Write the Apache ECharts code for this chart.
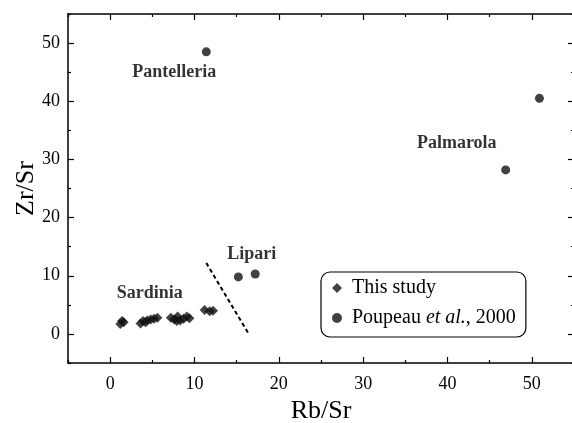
<!DOCTYPE html>
<html><head><meta charset="utf-8">
<script src="https://cdn.jsdelivr.net/npm/echarts@6/dist/echarts.min.js"></script>
<style>html,body{margin:0;padding:0;background:#fff}#c{width:572px;height:423px}</style>
</head><body><div id="c"></div>
<script>
// This study (Sardinia) Rb/Sr, Zr/Sr
const thisStudyRb = [1.2,1.4,1.6,3.6,3.9,4.2,4.4,4.8,5.2,5.6,7.2,7.6,7.9,8.0,8.3,8.7,9.1,9.4,11.2,11.8,12.2];
const thisStudyZr = [1.7,2.2,2.0,1.8,2.2,2.0,2.3,2.5,2.6,2.8,2.8,2.5,2.2,3.0,2.3,2.6,3.0,2.7,4.1,3.9,4.0];
// Poupeau et al., 2000
const poupeauRb = [11.4,15.2,17.2,46.9,50.9];
const poupeauZr = [48.5,9.8,10.3,28.2,40.5];
// Region labels
const regionNames = ['Pantelleria','Palmarola','Lipari','Sardinia'];
const regionX = [7.6,41.1,16.8,4.7];
const regionY = [45.0,32.8,13.6,7.0];
// Dividing dashed line
const divX = [11.4,16.35];
const divY = [12.2,0.2];
const majorTicks = [0,10,20,30,40,50];
const minorTicks = [-5,5,15,25,35,45,55];

const font = '"Liberation Serif","Times New Roman",serif';
const chart = echarts.init(document.getElementById('c'));
const gridRect = {left:68,top:14,width:506,height:349,containLabel:false,outerBoundsMode:'none'};
function axis(extra, showLine, tickVals, len){
  return Object.assign({
    type:'value', min:-5, max:55, interval:5,
    axisLine:{show:showLine,onZero:false,lineStyle:{color:'#000',width:1.5}},
    axisTick:{show:true,inside:true,length:len,customValues:tickVals,lineStyle:{color:'#000',width:1.2}},
    axisLabel:{show:false},
    splitLine:{show:false},
    nameMoveOverlap:false
  }, extra);
}
const tickLabel = {show:true,fontFamily:font,fontSize:18,color:'#000',customValues:majorTicks};
chart.setOption({
  animation:false,
  grid:[Object.assign({},gridRect),Object.assign({},gridRect)],
  legend:{
    orient:'vertical', left:321, top:272,
    padding:[6,10,9,11],
    borderColor:'#000', borderWidth:1.2, borderRadius:9,
    itemWidth:10, itemHeight:10, itemGap:10,
    data:['This study','Poupeau'],
    textStyle:{fontFamily:font,fontSize:20,color:'#000',lineHeight:20,padding:[0,0,0,5],
      rich:{
        n:{fontFamily:font,fontSize:20,color:'#000'},
        i:{fontFamily:font,fontSize:20,color:'#000',fontStyle:'italic'}
      }},
    formatter: n => n==='Poupeau' ? '{n|Poupeau }{i|et al.}{n|, 2000}' : n
  },
  xAxis:[
    axis({gridIndex:0,position:'bottom',name:'Rb/Sr',nameLocation:'middle',nameGap:35,
      nameTextStyle:{fontFamily:font,fontSize:26,color:'#000'},
      axisLabel:Object.assign({margin:12},tickLabel)}, true, majorTicks, 6),
    axis({gridIndex:0,position:'top'}, true, majorTicks, 6),
    axis({gridIndex:1,position:'bottom'}, false, minorTicks, 3),
    axis({gridIndex:1,position:'top'}, false, minorTicks, 3)
  ],
  yAxis:[
    axis({gridIndex:0,position:'left',name:'Zr/Sr',nameLocation:'middle',nameGap:29,
      nameTextStyle:{fontFamily:font,fontSize:26,color:'#000'},
      axisLabel:Object.assign({margin:8},tickLabel)}, true, majorTicks, 6),
    axis({gridIndex:0,position:'right'}, true, majorTicks, 6),
    axis({gridIndex:1,position:'left'}, false, minorTicks, 3),
    axis({gridIndex:1,position:'right'}, false, minorTicks, 3)
  ],
  series:[
    {name:'This study',type:'scatter',symbol:'diamond',symbolSize:10,
      itemStyle:{color:'#111'},
      data:thisStudyRb.map((x,i)=>[x,thisStudyZr[i]])},
    {name:'Poupeau',type:'scatter',symbol:'circle',symbolSize:9,
      itemStyle:{color:'#111'},
      data:poupeauRb.map((x,i)=>[x,poupeauZr[i]])},
    {name:'regions',type:'scatter',symbolSize:0,silent:true,
      label:{show:true,position:'inside',formatter:p=>regionNames[p.dataIndex],
        fontFamily:font,fontSize:18,fontWeight:'bold',color:'#000'},
      data:regionX.map((x,i)=>[x,regionY[i]])},
    {name:'divider',type:'line',symbol:'none',silent:true,
      lineStyle:{color:'#000',width:2,type:[4,3]},
      data:divX.map((x,i)=>[x,divY[i]])},
    {name:'minorAnchor',type:'scatter',xAxisIndex:2,yAxisIndex:2,symbolSize:0,silent:true,data:[]}
  ]
});
</script></body></html>
